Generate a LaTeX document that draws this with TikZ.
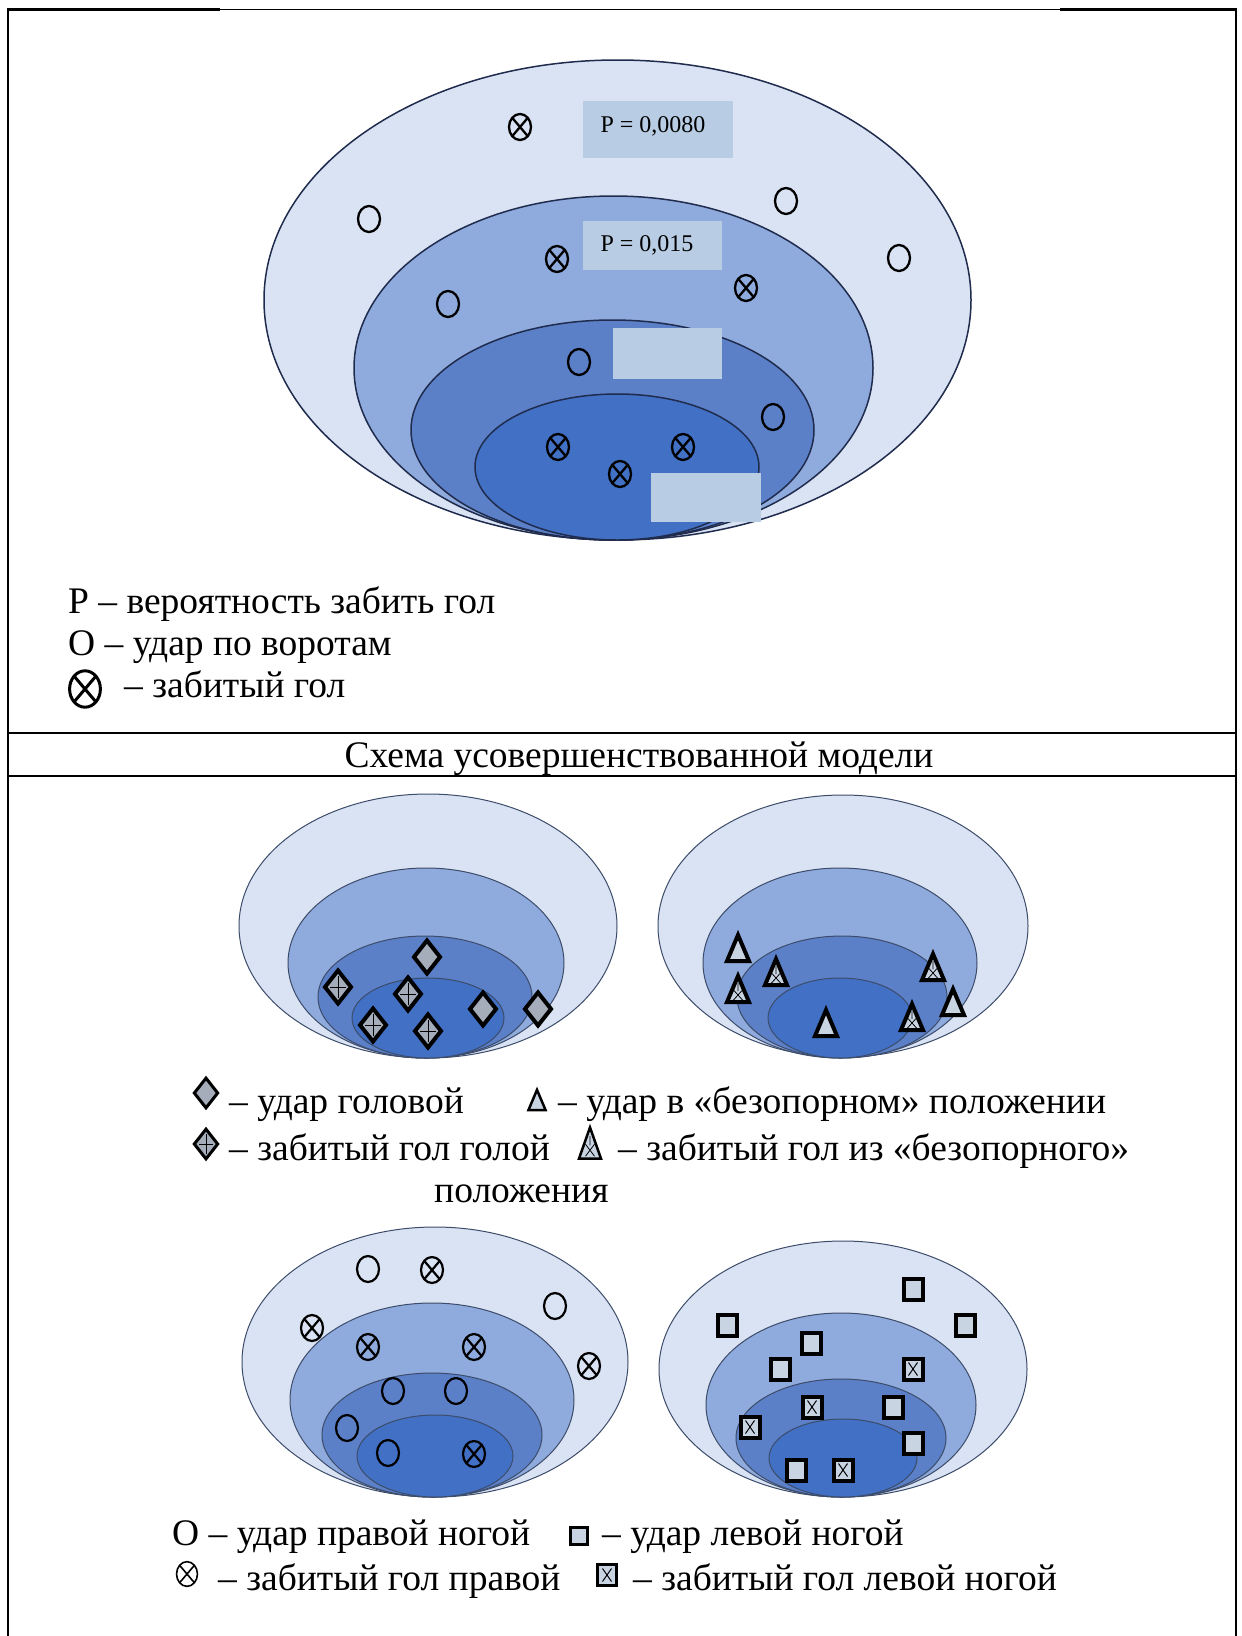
\documentclass[tikz,border=0pt]{standalone}
\usepackage{fontspec}
\setmainfont{Liberation Serif}
\definecolor{cA}{RGB}{218,227,243}
\definecolor{cB}{RGB}{143,170,220}
\definecolor{cC}{RGB}{91,128,200}
\definecolor{cD}{RGB}{65,112,196}
\definecolor{ringT}{RGB}{32,44,78}
\definecolor{ringL}{RGB}{60,76,106}
\definecolor{boxP}{RGB}{184,204,228}
\definecolor{dgray}{RGB}{165,172,186}
\definecolor{lfill}{RGB}{201,212,227}
\tikzset{
  lbl/.style={anchor=base west, inner sep=0pt, font=\fontsize{37.5}{42}\selectfont},
  pbox/.style={fill=boxP, draw=none},
  ptxt/.style={font=\fontsize{24}{27}\selectfont, inner sep=0pt},
  ringtop/.style={draw=ringT, line width=1.5pt},
  ringlow/.style={draw=ringL, line width=1pt},
  shot/.pic={\draw (0,0) ellipse [x radius=11, y radius=13];},
  goal/.pic={\draw (0,0) ellipse [x radius=11, y radius=13];
             \draw (-7.8,-9.2) -- (7.8,9.2) (7.8,-9.2) -- (-7.8,9.2);},
  diam/.pic={\draw[fill=dgray] (0,-16.5) -- (13,0) -- (0,16.5) -- (-13,0) -- cycle;},
  diamg/.pic={\draw[fill=dgray] (0,-16.5) -- (13,0) -- (0,16.5) -- (-13,0) -- cycle;
              \draw[line width=0.8pt] (0,-11) -- (0,11) (-8,0) -- (8,0);},
  tri/.pic={\draw[fill=lfill, line join=miter] (0,-13) -- (11,13) -- (-11,13) -- cycle;},
  trig/.pic={\draw[fill=lfill, line join=miter] (0,-13) -- (11,13) -- (-11,13) -- cycle;
             \draw[line width=0.8pt] (0,-6) -- (0,2) (-4.5,1) -- (4.5,11) (4.5,1) -- (-4.5,11);},
  sq/.pic={\draw[fill=lfill] (-9.5,-10.5) rectangle (9.5,10.5);},
  sqg/.pic={\draw[fill=lfill] (-9.5,-10.5) rectangle (9.5,10.5);
            \draw[line width=1pt] (-4.5,-6.5) -- (4.5,6.5) (4.5,-6.5) -- (-4.5,6.5);},
}
\begin{document}
\begin{tikzpicture}[x=1pt,y=-1pt]
\useasboundingbox (0,0) rectangle (1242,1636);
\fill[white] (0,0) rectangle (1242,1636);
% frame
\draw[line width=1pt] (8,9) -- (1236,9);
\draw[line width=3pt] (8,9) -- (220,9) (1060,9) -- (1236,9);
\draw[line width=1.5pt] (8,8) -- (8,1636) (1236,8) -- (1236,1636);
\draw[line width=2.5pt] (8,733) -- (1236,733) (8,776) -- (1236,776);

% ---------- top diagram ----------
\draw[ringtop, fill=cA] (617.5,300) ellipse [x radius=353.5, y radius=240];
\draw[ringtop, fill=cB] (613.5,368) ellipse [x radius=259.5, y radius=172];
\draw[ringtop, fill=cC] (612.5,430) ellipse [x radius=201.5, y radius=110];
\draw[ringtop, fill=cD] (617,467) ellipse [x radius=142, y radius=73];
\fill[pbox] (583,101) rectangle (733,158);
\node[ptxt] (p1) at (653,126) {P = 0,0080};
\fill[pbox] (583,221) rectangle (722,270);
\node[ptxt] (p2) at (647,245) {P = 0,015};
\fill[pbox] (613,328) rectangle (722,379);
\fill[pbox] (651,473) rectangle (761,522);
\begin{scope}[line width=2.3pt]
\foreach \p in {(520,127),(557,259),(746,288),(558,447),(683,447),(620,474)} \pic at \p {goal};
\foreach \p in {(369,219),(786,201),(899,258),(448,304),(579,362),(773,417)} \pic at \p {shot};
\end{scope}
% top legend
\node[lbl] (l1) at (68,613) {P – вероятность забить гол};
\node[lbl] (l2) at (68,655) {О – удар по воротам};
\pic[line width=3pt, scale=1.4] at (85,689) {goal};
\node[lbl] (l3) at (124,697) {– забитый гол};
\node[anchor=base, inner sep=0pt, font=\fontsize{37.5}{42}\selectfont] (title) at (639,767) {Схема усовершенствованной модели};

% ---------- diamonds diagram ----------
\draw[ringlow, fill=cA] (428,926) ellipse [x radius=189, y radius=132];
\draw[ringlow, fill=cB] (426,963) ellipse [x radius=138, y radius=95];
\draw[ringlow, fill=cC] (425,997) ellipse [x radius=107, y radius=61];
\draw[ringlow, fill=cD] (428,1018) ellipse [x radius=76, y radius=40];
\begin{scope}[line width=4pt]
\foreach \p in {(427,957),(483,1009),(538,1009)} \pic at \p {diam};
\foreach \p in {(338,987),(408,994),(373,1025),(428,1031)} \pic at \p {diamg};
\end{scope}

% ---------- triangles diagram ----------
\draw[ringlow, fill=cA] (843,926) ellipse [x radius=185, y radius=131];
\draw[ringlow, fill=cB] (840,963) ellipse [x radius=137, y radius=95];
\draw[ringlow, fill=cC] (842,997) ellipse [x radius=105, y radius=61];
\draw[ringlow, fill=cD] (840,1018) ellipse [x radius=72, y radius=40];
\begin{scope}[line width=4pt]
\foreach \p in {(738,948),(953,1002),(826,1023)} \pic at \p {tri};
\foreach \p in {(776,972),(738,989),(933,967),(912,1017)} \pic at \p {trig};
\end{scope}

% legend 1
\pic[line width=3pt, scale=0.9] at (206,1093) {diam};
\node[lbl] (m1) at (229,1113) {– удар головой};
\pic[line width=2.5pt, scale=0.78] at (537,1100) {tri};
\node[lbl] (m2) at (558,1113) {– удар в «безопорном» положении};
\pic[line width=3pt, scale=0.9] at (206,1144) {diamg};
\node[lbl] (m3) at (229,1160) {– забитый гол голой};
\pic[line width=2.5pt, scale=1.0, yscale=1.2] at (590,1143) {trig};
\node[lbl] (m4) at (618,1160) {– забитый гол из «безопорного»};
\node[lbl] (m5) at (434,1202) {положения};

% ---------- circles diagram ----------
\draw[ringlow, fill=cA] (435,1362) ellipse [x radius=193, y radius=135];
\draw[ringlow, fill=cB] (432,1400) ellipse [x radius=142, y radius=97];
\draw[ringlow, fill=cC] (432,1435) ellipse [x radius=110, y radius=62];
\draw[ringlow, fill=cD] (435,1456) ellipse [x radius=78, y radius=41];
\begin{scope}[line width=2.2pt]
\foreach \p in {(432,1270),(312,1328),(368,1347),(474,1347),(589,1366),(474,1454)} \pic at \p {goal};
\foreach \p in {(368,1269),(555,1306),(393,1391),(456,1391),(347,1428),(388,1453)} \pic at \p {shot};
\end{scope}

% ---------- squares diagram ----------
\draw[ringlow, fill=cA] (843,1369) ellipse [x radius=184, y radius=128];
\draw[ringlow, fill=cB] (841,1405) ellipse [x radius=135, y radius=92];
\draw[ringlow, fill=cC] (841,1438) ellipse [x radius=105, y radius=59];
\draw[ringlow, fill=cD] (843,1458) ellipse [x radius=74, y radius=39];
\begin{scope}[line width=4pt]
\foreach \p in {(913,1289),(727,1325),(965,1325),(811,1343),(780,1369),(893,1407),(913,1443),(796,1470)} \pic at \p {sq};
\foreach \p in {(913,1369),(812,1407),(750,1427),(843,1470)} \pic at \p {sqg};
\end{scope}

% legend 2
\node[lbl] (n1) at (172,1545) {О – удар правой ногой};
\pic[line width=3pt, scale=0.85] at (579,1536) {sq};
\node[lbl] (n2) at (602,1545) {– удар левой ногой};
\pic[line width=1.6pt, scale=0.95] at (187,1574) {goal};
\node[lbl] (n3) at (218,1590) {– забитый гол правой};
\pic[line width=3pt, scale=1.0] at (607,1575) {sqg};
\node[lbl] (n4) at (633,1590) {– забитый гол левой ногой};
\end{tikzpicture}
\end{document}
